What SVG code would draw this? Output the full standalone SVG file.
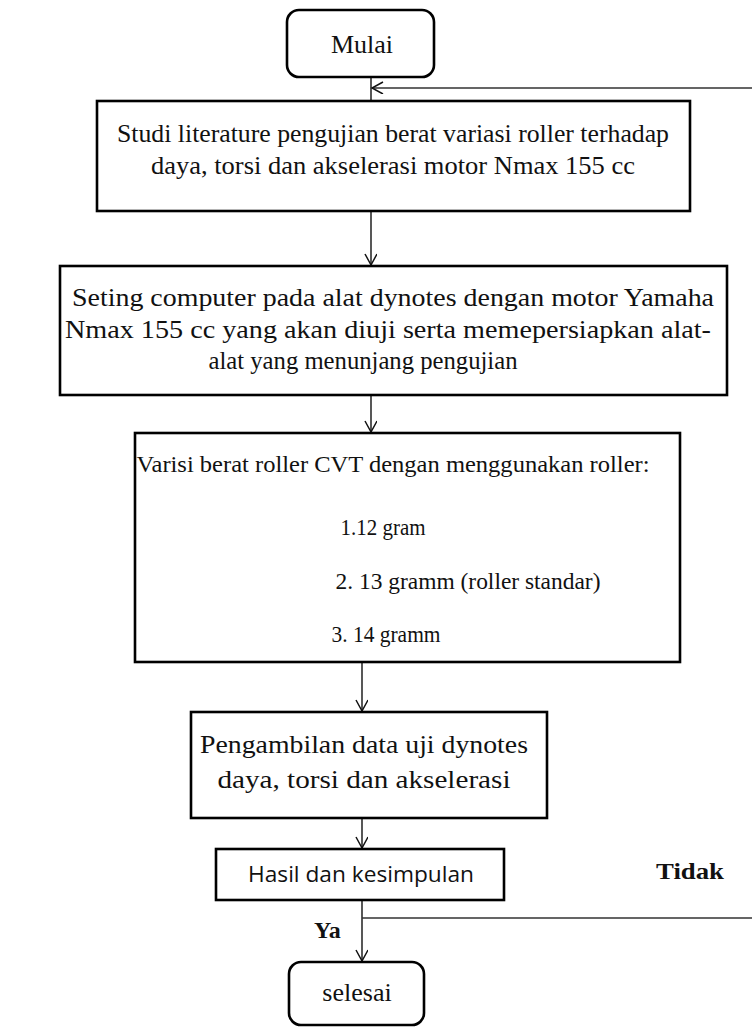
<svg xmlns="http://www.w3.org/2000/svg" width="752" height="1030" viewBox="0 0 752 1030">
<style>
.box{fill:#fff;stroke:#000;stroke-width:2.6}
.t{font-family:"Liberation Serif","Times New Roman",serif;font-size:25px;fill:#111;text-anchor:middle}
.m{font-family:"Liberation Serif","Times New Roman",serif;font-size:23px;fill:#111;text-anchor:middle}
.e{font-family:"Liberation Serif","Times New Roman",serif;font-size:26px;fill:#111;text-anchor:middle}
.s{font-family:"Open Sans","Noto Sans",sans-serif;font-size:21px;fill:#111;text-anchor:middle}
.b{font-family:"Liberation Serif","Times New Roman",serif;font-size:24px;font-weight:bold;fill:#111}
.c{fill:none;stroke:#111;stroke-width:1.4}
.loop{fill:none;stroke:#333;stroke-width:1.6}
</style>
<defs>
<marker id="arr" markerUnits="userSpaceOnUse" markerWidth="14" markerHeight="14" refX="12" refY="6" orient="auto">
<path d="M1,0 L12,6 L1,12" fill="none" stroke="#111" stroke-width="1.5"/>
</marker>
</defs>
<rect width="752" height="1030" fill="#fff"/>
<g id="connectors">
<line class="c" x1="371" y1="77" x2="371" y2="101"/>
<line class="c" x1="371" y1="211" x2="371" y2="265" marker-end="url(#arr)"/>
<line class="c" x1="371" y1="395" x2="371" y2="432" marker-end="url(#arr)"/>
<line class="c" x1="362" y1="662" x2="362" y2="711" marker-end="url(#arr)"/>
<line class="c" x1="362" y1="818" x2="362" y2="848" marker-end="url(#arr)"/>
<line class="c" x1="362" y1="900" x2="362" y2="961" marker-end="url(#arr)"/>
<path class="loop" d="M362,918 H754 V88 H372" marker-end="url(#arr)"/>
<text class="b" x="656" y="879" textLength="68" lengthAdjust="spacingAndGlyphs">Tidak</text>
<text class="b" x="314" y="938">Ya</text>
</g>
<g id="mulai">
<rect class="box" x="287" y="10" width="147" height="67" rx="12"/>
<text class="e" x="362" y="53">Mulai</text>
</g>
<g id="studi">
<rect class="box" x="97" y="101" width="593" height="110"/>
<text class="t" x="393" y="142" textLength="552" lengthAdjust="spacingAndGlyphs">Studi literature pengujian berat variasi roller terhadap</text>
<text class="t" x="393" y="174" textLength="484" lengthAdjust="spacingAndGlyphs">daya, torsi dan akselerasi motor Nmax 155 cc</text>
</g>
<g id="seting">
<rect class="box" x="60" y="266" width="667" height="129"/>
<text class="t" x="393" y="306" textLength="642" lengthAdjust="spacingAndGlyphs">Seting computer pada alat dynotes dengan motor Yamaha</text>
<text class="t" x="388" y="338" textLength="646" lengthAdjust="spacingAndGlyphs">Nmax 155 cc yang akan diuji serta memepersiapkan alat-</text>
<text class="t" x="363" y="369" textLength="309" lengthAdjust="spacingAndGlyphs">alat yang menunjang pengujian</text>
</g>
<g id="variasi">
<rect class="box" x="135" y="433" width="545" height="229"/>
<text class="m" x="393" y="472" textLength="513" lengthAdjust="spacingAndGlyphs">Varisi berat roller CVT dengan menggunakan roller:</text>
<text class="m" x="383" y="535" textLength="85" lengthAdjust="spacingAndGlyphs">1.12 gram</text>
<text class="m" x="468" y="589" textLength="265" lengthAdjust="spacingAndGlyphs">2. 13 gramm (roller standar)</text>
<text class="m" x="386" y="642" textLength="109" lengthAdjust="spacingAndGlyphs">3. 14 gramm</text>
</g>
<g id="pengambilan">
<rect class="box" x="191" y="712" width="356" height="106"/>
<text class="t" x="364" y="753" textLength="328" lengthAdjust="spacingAndGlyphs">Pengambilan data uji dynotes</text>
<text class="t" x="364" y="788" textLength="293" lengthAdjust="spacingAndGlyphs">daya, torsi dan akselerasi</text>
</g>
<g id="hasil">
<rect class="box" x="216" y="849" width="288" height="51"/>
<text class="s" x="361" y="882" textLength="226" lengthAdjust="spacingAndGlyphs">Hasil dan kesimpulan</text>
</g>
<g id="selesai">
<rect class="box" x="289" y="962" width="135" height="63" rx="12"/>
<text class="e" x="357" y="1001">selesai</text>
</g>
</svg>
